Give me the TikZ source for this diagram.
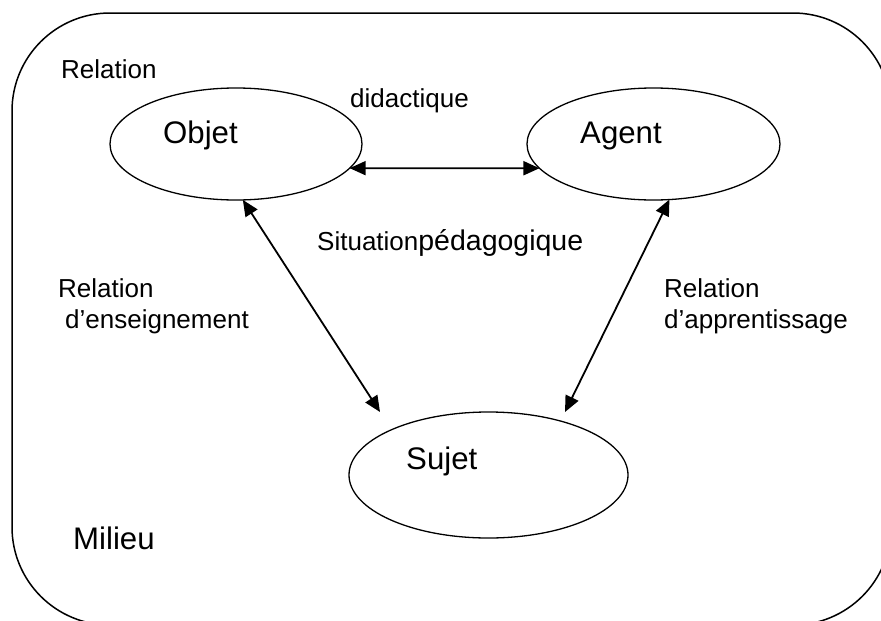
\documentclass[tikz,border=0pt]{standalone}
\usepackage{fontspec}
\setmainfont{Liberation Sans}
\usetikzlibrary{shapes.geometric,arrows.meta}
\begin{document}
\begin{tikzpicture}[x=1pt,y=-1pt,
  pole/.style={draw,ellipse,line width=1.3pt,inner sep=0pt,outer sep=0pt},
  lbl/.style={anchor=base west,inner sep=0pt,font=\fontsize{26}{31}\selectfont},
  biglbl/.style={anchor=base west,inner sep=0pt,font=\fontsize{31.2}{37}\selectfont},
  link/.style={line width=1.8pt,{Triangle[length=16pt,width=14pt]}-{Triangle[length=16pt,width=14pt]}}
]
\useasboundingbox (0,0) rectangle (881,621);
\clip (0,0) rectangle (881,621);

% the surrounding environment (milieu)
\draw[line width=1.5pt, rounded corners=98pt] (12,13) rectangle (891,625);

% the three poles
\node[pole,minimum width=252pt,minimum height=112pt] (obj) at (236,144) {};
\node[pole,minimum width=253pt,minimum height=112pt] (agt) at (653.5,144) {};
\node[pole,minimum width=279pt,minimum height=126pt] (suj) at (488.5,475) {};

\node[biglbl] (objT) at (163,143) {Objet};
\node[biglbl] (agtT) at (580,143) {Agent};
\node[biglbl] (sujT) at (406,469) {Sujet};

% relations between the poles
\coordinate (ensEnd) at (380,412);
\coordinate (appEnd) at (565,412);
\draw[link] (obj.-12.7) -- (agt.192.6);
\draw[link] (obj.-83) -- (ensEnd);
\draw[link] (agt.-74) -- (appEnd);

% labels
\node[lbl] (relTop) at (61,78) {Relation};
\node[lbl] (did) at (350,107) {didactique};
\node[lbl] (sit) at (317,250) {Situation\fontsize{28.5}{34}\selectfont pédagogique};
\node[lbl] (ens1) at (58,297) {Relation};
\node[lbl] (ens2) at (65,328) {d’enseignement};
\node[lbl] (app1) at (664,297) {Relation};
\node[lbl] (app2) at (664,328) {d’apprentissage};
\node[biglbl] (mil) at (73,549) {Milieu};
\end{tikzpicture}
\end{document}
